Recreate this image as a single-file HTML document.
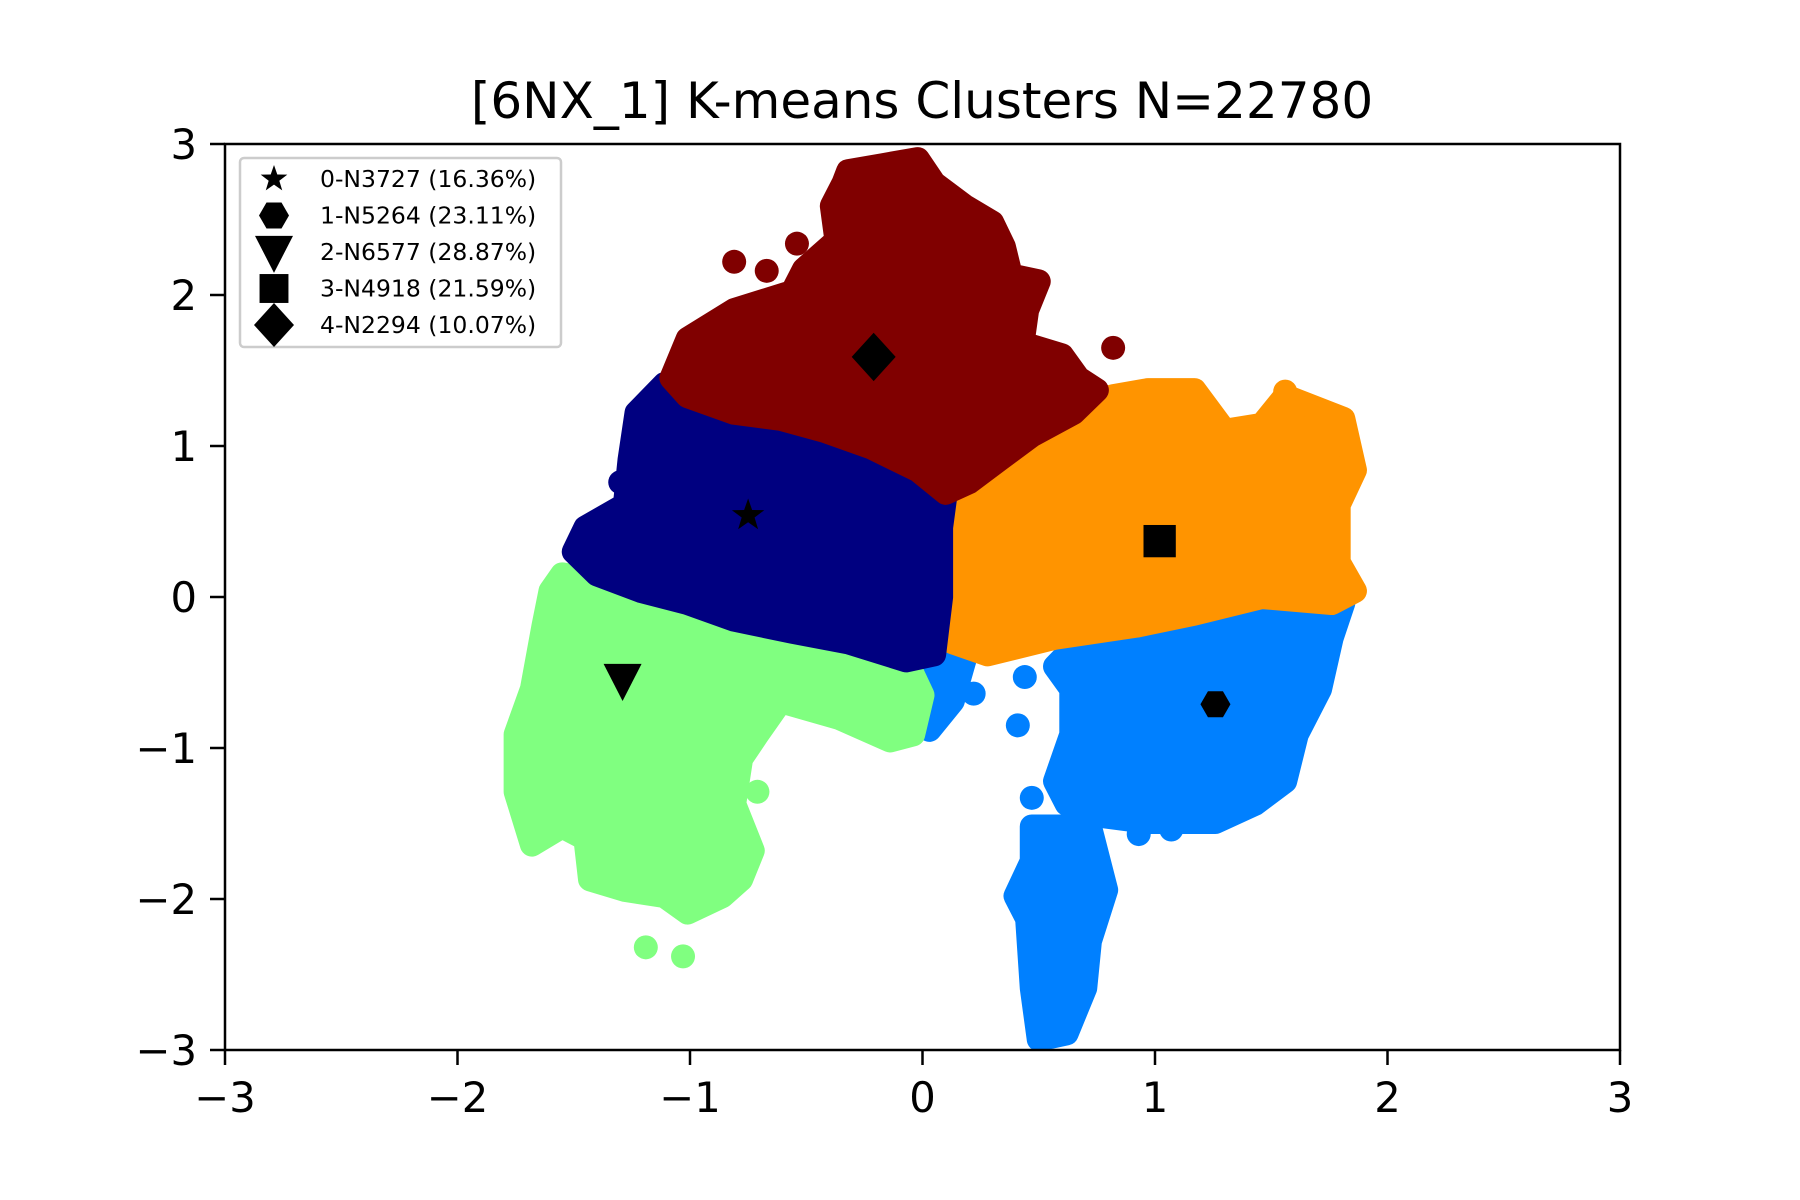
<!DOCTYPE html>
<html><head><meta charset="utf-8"><style>
body{margin:0;background:#fff}
svg{display:block}
text{font-family:"DejaVu Sans","Liberation Sans",sans-serif}
</style></head><body>
<svg id="chart" width="1800" height="1200" xmlns="http://www.w3.org/2000/svg">
<rect width="1800" height="1200" fill="#fff"/>
<defs><clipPath id="clip"><rect x="225" y="144" width="1395" height="906"/></clipPath></defs>
<text x="922" y="118" font-size="50" text-anchor="middle">[6NX_1] K-means Clusters N=22780</text>
<g id="plot" clip-path="url(#clip)"></g>
<g id="axes"></g>
<g id="legend"></g>
</svg>
<script>
const xTicks=[-3,-2,-1,0,1,2,3];
const yTicks=[-3,-2,-1,0,1,2,3];
const tickLabels=["\u22123","\u22122","\u22121","0","1","2","3"];
const clusterColors=["#000080","#0080ff","#80ff80","#ff9400","#800000"];
const clusterLabels=["0-N3727 (16.36%)","1-N5264 (23.11%)","2-N6577 (28.87%)","3-N4918 (21.59%)","4-N2294 (10.07%)"];
const clusterShapes=["star","hexagon","triangle","square","diamond"];
const centroidX=[-0.75,1.26,-1.29,1.02,-0.21];
const centroidY=[0.54,-0.71,-0.55,0.37,1.59];
// cluster region outlines (data coords)
const regions0=[[[-1.01,1.33],[-1.11,1.41],[-1.23,1.22],[-1.26,0.91],[-1.28,0.61],[-1.45,0.46],[-1.50,0.30],[-1.40,0.15],[-1.21,0.04],[-1.01,-0.04],[-0.81,-0.15],[-0.56,-0.23],[-0.32,-0.30],[-0.07,-0.42],[0.05,-0.38],[0.08,0.0],[0.08,0.46],[0.10,0.69],[-0.02,0.84],[-0.22,0.99],[-0.42,1.10],[-0.61,1.18],[-0.81,1.22]]];
const regions1=[[[0.67,-0.30],[0.97,-0.19],[1.27,-0.11],[1.56,0.0],[1.81,-0.04],[1.76,-0.27],[1.71,-0.61],[1.61,-0.91],[1.56,-1.22],[1.43,-1.37],[1.26,-1.49],[0.97,-1.49],[0.77,-1.45],[0.62,-1.37],[0.57,-1.22],[0.64,-0.91],[0.64,-0.61],[0.57,-0.46]],
 [[0.47,-1.52],[0.72,-1.52],[0.79,-1.94],[0.72,-2.28],[0.70,-2.59],[0.62,-2.89],[0.50,-2.93],[0.47,-2.59],[0.45,-2.13],[0.40,-1.98],[0.47,-1.75]],
 [[0.05,-0.46],[0.18,-0.42],[0.13,-0.69],[0.03,-0.88],[0.0,-0.61]]];
const regions2=[[[-1.55,0.15],[-1.40,0.11],[-1.21,0.02],[-1.01,-0.04],[-0.81,-0.15],[-0.56,-0.23],[-0.32,-0.30],[-0.07,-0.42],[0.0,-0.65],[-0.04,-0.91],[-0.14,-0.95],[-0.36,-0.80],[-0.61,-0.69],[-0.71,-0.91],[-0.78,-1.07],[-0.81,-1.37],[-0.73,-1.68],[-0.78,-1.87],[-0.86,-1.98],[-1.01,-2.09],[-1.11,-1.98],[-1.28,-1.94],[-1.43,-1.87],[-1.45,-1.60],[-1.55,-1.52],[-1.68,-1.64],[-1.75,-1.29],[-1.75,-0.91],[-1.68,-0.61],[-1.63,-0.19],[-1.60,0.04]]];
const regions3=[[[0.13,0.69],[0.28,0.84],[0.47,1.07],[0.65,1.26],[0.82,1.33],[0.97,1.37],[1.17,1.37],[1.30,1.10],[1.46,1.14],[1.56,1.33],[1.81,1.18],[1.86,0.84],[1.79,0.61],[1.79,0.23],[1.86,0.04],[1.76,-0.04],[1.46,0.0],[1.17,-0.11],[0.92,-0.19],[0.57,-0.27],[0.28,-0.38],[0.13,-0.30],[0.08,0.0],[0.10,0.38]]];
const regions4=[[[-0.32,2.82],[-0.17,2.86],[-0.02,2.90],[0.05,2.74],[0.18,2.59],[0.30,2.48],[0.35,2.32],[0.38,2.13],[0.50,2.09],[0.45,1.90],[0.43,1.68],[0.60,1.60],[0.67,1.45],[0.75,1.37],[0.65,1.22],[0.47,1.07],[0.33,0.91],[0.20,0.76],[0.10,0.69],[-0.02,0.84],[-0.22,0.99],[-0.42,1.10],[-0.61,1.18],[-0.81,1.22],[-1.01,1.33],[-1.08,1.45],[-1.01,1.71],[-0.81,1.90],[-0.56,2.02],[-0.51,2.17],[-0.37,2.36],[-0.39,2.59],[-0.34,2.74]]];
const outliers0=[[-1.30,0.76]];
const outliers1=[[0.22,-0.64],[0.41,-0.85],[0.44,-0.53],[0.47,-1.33],[0.93,-1.57],[1.07,-1.54]];
const outliers2=[[-1.19,-2.32],[-1.03,-2.38],[-0.71,-1.29],[-0.67,-0.82]];
const outliers3=[[1.17,1.30],[1.56,1.36]];
const outliers4=[[-0.81,2.22],[-0.54,2.34],[-0.67,2.16],[0.82,1.65]];

const NS="http://www.w3.org/2000/svg";
const X=v=>225+(v+3)/6*1395;
const Y=v=>144+(3-v)/6*906;
const DOT=24;
function mk(tag,attrs,parent){const e=document.createElementNS(NS,tag);for(const k in attrs)e.setAttribute(k,attrs[k]);parent.appendChild(e);return e;}
const plot=document.getElementById('plot'),axes=document.getElementById('axes'),legend=document.getElementById('legend');
const allRegions=[regions0,regions1,regions2,regions3,regions4];
const allOut=[outliers0,outliers1,outliers2,outliers3,outliers4];
const order=[1,2,3,0,4];
order.forEach(c=>{
  allRegions[c].forEach(poly=>{
    const p=mk('polygon',{points:poly.map(q=>X(q[0])+','+Y(q[1])).join(' '),fill:clusterColors[c],stroke:clusterColors[c],'stroke-width':DOT,'stroke-linejoin':'round'},plot);
    
    
  });
  allOut[c].forEach(q=>{
    const e=mk('circle',{cx:X(q[0]),cy:Y(q[1]),r:DOT/2,fill:clusterColors[c]},plot);
    
    
  });
});
function marker(shape,cx,cy,s,parent){
  let e;
  if(shape==='star'){let pts=[];for(let i=0;i<10;i++){const r=i%2?s*0.4:s;const a=-Math.PI/2+i*Math.PI/5;pts.push((cx+r*Math.cos(a))+','+(cy+r*Math.sin(a)));}e=mk('polygon',{points:pts.join(' ')},parent);}
  else if(shape==='hexagon'){let pts=[];for(let i=0;i<6;i++){const a=i*Math.PI/3;pts.push((cx+s*Math.cos(a))+','+(cy+s*Math.sin(a)));}e=mk('polygon',{points:pts.join(' ')},parent);}
  else if(shape==='triangle'){e=mk('polygon',{points:`${cx-s},${cy-s*0.85} ${cx+s},${cy-s*0.85} ${cx},${cy+s*1.1}`},parent);}
  else if(shape==='square'){e=mk('rect',{x:cx-s*0.85,y:cy-s*0.85,width:s*1.7,height:s*1.7},parent);}
  else {e=mk('polygon',{points:`${cx},${cy-s*1.1} ${cx+s},${cy} ${cx},${cy+s*1.1} ${cx-s},${cy}`},parent);}
  e.setAttribute('fill','#000');
  return e;
}
const cSizes=[17,15,19,19,22];
centroidX.forEach((cx,i)=>{
  const m=marker(clusterShapes[i],X(cx),Y(centroidY[i]),cSizes[i],plot);
  
  
});
const fr=mk('rect',{x:225,y:144,width:1395,height:906,fill:'none',stroke:'#000','stroke-width':2.5},axes);


xTicks.forEach((t,i)=>{
  mk('line',{x1:X(t),x2:X(t),y1:1050,y2:1065,stroke:'#000','stroke-width':2.5},axes);
  const tx=mk('text',{x:X(t),y:1112,'font-size':41.7,'text-anchor':'middle'},axes);
  tx.textContent=tickLabels[i];
  
  
});
yTicks.forEach((t,i)=>{
  mk('line',{x1:210,x2:225,y1:Y(t),y2:Y(t),stroke:'#000','stroke-width':2.5},axes);
  const tx=mk('text',{x:197,y:Y(t)+15,'font-size':41.7,'text-anchor':'end'},axes);
  tx.textContent=tickLabels[i];
  
  
});
const lb=mk('rect',{x:240,y:158,width:321,height:189,rx:4,fill:'#fff','fill-opacity':0.8,stroke:'#ccc','stroke-width':2.5},legend);


const lSizes=[14,15,19,17,20];
clusterLabels.forEach((lab,i)=>{
  const y=179+i*36.5;
  const m=marker(clusterShapes[i],274,y,lSizes[i],legend);
  
  
  const tx=mk('text',{x:320,y:y+8,'font-size':23.5},legend);
  tx.textContent=lab;
  
  
});
</script>
</body></html>
